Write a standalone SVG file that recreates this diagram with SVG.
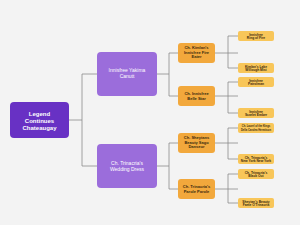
<svg xmlns="http://www.w3.org/2000/svg" width="300" height="225" viewBox="0 0 300 225">
<style>
.c{fill:none;stroke:#8a8a8a;stroke-width:0.8}
.r{fill:#6831c4}
.l1{fill:#9b6ddb}
.l2{fill:#f2a83c}
.lf{fill:#f8c659}
text{font-family:"Liberation Sans",Arial,sans-serif;text-anchor:middle}
.tr{fill:#fff;font-size:6px;font-weight:bold}
.t1{fill:#fff;font-size:5px}
.t2{fill:#3b2a0e;font-size:4px;font-weight:bold}
.tl{fill:#3b2a0e;font-size:3.3px;font-weight:bold}
</style>
<rect width="300" height="225" fill="#f3f3f3"/>
<g id="connectors">
<path class="c" d="M69 120H82M82 74V166M82 74H97M82 166H97"/>
<path class="c" d="M157 74H169M169 53V96M169 53H178M169 96H178"/>
<path class="c" d="M157 166H169M169 143V189M169 143H178M169 189H178"/>
<path class="c" d="M215 53H238M228 36V68M228 36H238M228 68H238"/>
<path class="c" d="M215 96H238M228 82V113M228 82H238M228 113H238"/>
<path class="c" d="M215 143H238M228 128V159M228 128H238M228 159H238"/>
<path class="c" d="M215 189H238M228 174V203M228 174H238M228 203H238"/>
</g>
<g id="root"><rect class="r" x="10" y="102" width="59" height="36" rx="4"/>
<text class="tr" x="39.5" y="116">Legend</text><text class="tr" x="39.5" y="123">Continues</text><text class="tr" x="39.5" y="130">Chateaugay</text></g>
<g id="n1"><rect class="l1" x="97" y="52" width="60" height="44" rx="4"/>
<text class="t1" x="127" y="72">Innisfree Yakima</text><text class="t1" x="127" y="78">Canutt</text></g>
<g id="n2"><rect class="l1" x="97" y="144" width="60" height="44" rx="4"/>
<text class="t1" x="127" y="165">Ch. Trinacria's</text><text class="t1" x="127" y="171">Wedding Dress</text></g>
<g id="n3"><rect class="l2" x="178" y="43" width="37" height="20" rx="3"/>
<text class="t2" x="196.5" y="49">Ch. Kimlan's</text><text class="t2" x="196.5" y="53.5">Innisfree Fire</text><text class="t2" x="196.5" y="58">Eater</text></g>
<g id="n4"><rect class="l2" x="178" y="86" width="37" height="20" rx="3"/>
<text class="t2" x="196.5" y="95">Ch. Innisfree</text><text class="t2" x="196.5" y="99.5">Belle Star</text></g>
<g id="n5"><rect class="l2" x="178" y="133" width="37" height="20" rx="3"/>
<text class="t2" x="196.5" y="139">Ch. Sheytans</text><text class="t2" x="196.5" y="143.5">Beauty Sago</text><text class="t2" x="196.5" y="148">Danseur</text></g>
<g id="n6"><rect class="l2" x="178" y="179" width="37" height="20" rx="3"/>
<text class="t2" x="196.5" y="188">Ch. Trinacria's</text><text class="t2" x="196.5" y="192.5">Parole Parole</text></g>
<g id="l1"><rect class="lf" x="238" y="31" width="36" height="10" rx="2"/>
<text class="tl" x="256" y="35.5">Innisfree</text><text class="tl" x="256" y="39">Ring of Fire</text></g>
<g id="l2"><rect class="lf" x="238" y="63" width="36" height="10" rx="2"/>
<text class="tl" x="256" y="67.5">Kimlan's Lake</text><text class="tl" x="256" y="71">Willough Mist</text></g>
<g id="l3"><rect class="lf" x="238" y="77" width="36" height="10" rx="2"/>
<text class="tl" x="256" y="81.5">Innisfree</text><text class="tl" x="256" y="85">Patrolman</text></g>
<g id="l4"><rect class="lf" x="238" y="108" width="36" height="10" rx="2"/>
<text class="tl" x="256" y="112.5">Innisfree</text><text class="tl" x="256" y="116">Scarlet Ember</text></g>
<g id="l5"><rect class="lf" x="238" y="123" width="36" height="10" rx="2"/>
<text class="tl" x="256" y="127.3" style="font-size:2.6px">Ch. Laurel of the Kings</text><text class="tl" x="256" y="130.6" style="font-size:2.6px">Della Carolea Hermitson</text></g>
<g id="l6"><rect class="lf" x="238" y="154" width="36" height="10" rx="2"/>
<text class="tl" x="256" y="158.5">Ch. Trinacria's</text><text class="tl" x="256" y="162">New York New York</text></g>
<g id="l7"><rect class="lf" x="238" y="169" width="36" height="10" rx="2"/>
<text class="tl" x="256" y="173.5">Ch. Trinacria's</text><text class="tl" x="256" y="177">Black Out</text></g>
<g id="l8"><rect class="lf" x="238" y="198" width="36" height="10" rx="2"/>
<text class="tl" x="256" y="202.5">Sheytan's Beauty</text><text class="tl" x="256" y="206">Fame O'Trinacria</text></g>
</svg>
